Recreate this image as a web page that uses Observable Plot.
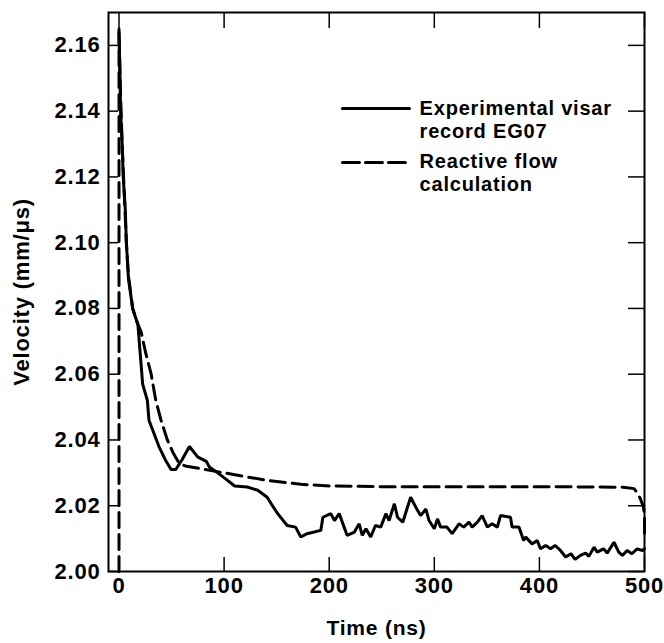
<!DOCTYPE html>
<html>
<head>
<meta charset="utf-8">
<script src="https://cdn.jsdelivr.net/npm/d3@7"></script>
<script src="https://cdn.jsdelivr.net/npm/@observablehq/plot@0.6"></script>
<style>
  html, body { margin: 0; padding: 0; background: #fff; }
  svg text { letter-spacing: 0.8px; }
</style>
</head>
<body>
<div id="chart"></div>
<script>
// Experimental visar record EG07 (time ns, velocity mm/µs)
const expTime = [0, 1, 1.5, 3, 4, 6, 7, 9, 13, 16, 18, 21, 22.5, 27, 28.5, 38, 44, 49.5, 54, 60, 67, 75, 80, 83, 86, 94, 102, 110, 122, 132, 141, 146, 151, 160, 168, 173, 179, 192, 194, 201.5, 205, 209.5, 217, 224, 228.5, 231.5, 235, 239.5, 244, 249, 254, 257, 262, 265, 270, 277.5, 284, 287, 292, 295, 300, 303, 306, 312, 317, 323.5, 328, 333, 336, 341, 345.5, 350.5, 355, 360, 363, 372.5, 374, 380.5, 385, 387, 393, 398, 401, 406, 410.6, 415, 420, 425, 430, 434, 439, 444, 447, 452, 455, 461, 464.5, 471, 475.5, 479, 483.5, 488, 493, 498, 500];
const expVel  = [2.164, 2.150, 2.140, 2.130, 2.120, 2.110, 2.100, 2.089, 2.080, 2.077, 2.075, 2.063, 2.057, 2.052, 2.046, 2.038, 2.034, 2.031, 2.031, 2.034, 2.038, 2.0348, 2.034, 2.0335, 2.0318, 2.030, 2.028, 2.026, 2.0257, 2.0247, 2.0226, 2.020, 2.0176, 2.014, 2.0135, 2.0105, 2.0115, 2.0125, 2.0165, 2.0176, 2.0155, 2.0176, 2.011, 2.012, 2.0145, 2.011, 2.013, 2.0105, 2.014, 2.0135, 2.0176, 2.0155, 2.0206, 2.0165, 2.015, 2.0226, 2.0186, 2.017, 2.019, 2.0155, 2.013, 2.016, 2.0135, 2.0135, 2.0115, 2.0145, 2.0135, 2.015, 2.0135, 2.015, 2.017, 2.0135, 2.0145, 2.0135, 2.017, 2.0165, 2.0135, 2.0135, 2.0094, 2.0105, 2.0084, 2.0094, 2.0069, 2.0079, 2.0069, 2.0079, 2.0064, 2.0044, 2.0054, 2.0037, 2.0049, 2.0056, 2.0046, 2.0074, 2.0059, 2.0069, 2.0056, 2.0089, 2.0059, 2.0049, 2.0064, 2.0054, 2.0069, 2.0064, 2.0069];

// Reactive flow calculation
const calcTime = [0, 0, 1, 3, 5, 7, 9, 13, 17, 19, 21, 25.5, 30.5, 35, 40, 46, 52, 57, 63, 77, 109, 141, 173, 201, 250, 300, 350, 400, 450, 480, 490, 493, 496, 499, 500, 500];
const calcVel  = [2.000, 2.165, 2.150, 2.130, 2.115, 2.100, 2.090, 2.080, 2.076, 2.0744, 2.0729, 2.0663, 2.0602, 2.052, 2.046, 2.040, 2.0358, 2.033, 2.0321, 2.0313, 2.0295, 2.0277, 2.0265, 2.026, 2.0258, 2.0258, 2.0258, 2.0258, 2.0257, 2.0256, 2.0252, 2.024, 2.0222, 2.0196, 2.017, 2.010];

const xTicks = [0, 100, 200, 300, 400, 500];
const yTicks = [2.00, 2.02, 2.04, 2.06, 2.08, 2.10, 2.12, 2.14, 2.16];

const xLabel = "Time (ns)";
const yLabel = "Velocity (mm/\u03bcs)";
const legendLabels = [["Experimental visar", "record EG07"], ["Reactive flow", "calculation"]];

const expData = expTime.map((t, i) => ({t, v: expVel[i]}));
const calcData = calcTime.map((t, i) => ({t, v: calcVel[i]}));

const W = 664, H = 643;
const mL = 108, mR = 20, mT = 12, mB = 72;
const fw = W - mL - mR, fh = H - mT - mB;
const font = "'Liberation Sans', Arial, Helvetica, sans-serif";

// legend placement in data space
const lgX1 = 212.6, lgX2 = 276.4, lgTextX = 286;
const lgY = [2.1408, 2.1244];
const lgLine = 0.0069;

const chart = Plot.plot({
  width: W,
  height: H,
  marginLeft: mL, marginRight: mR, marginTop: mT, marginBottom: mB,
  style: {fontFamily: font, fontWeight: "bold", fontSize: "21px", color: "#000", background: "#fff"},
  x: {domain: [-10, 500], axis: null},
  y: {domain: [2.00, 2.17], axis: null},
  marks: [
    // inward ticks
    Plot.tickX(xTicks, {x: d => d, insetTop: fh - 14, stroke: "#000", strokeWidth: 1.5}),
    Plot.tickX(xTicks, {x: d => d, insetBottom: fh - 16, stroke: "#000", strokeWidth: 1.5}),
    Plot.tickY(yTicks, {y: d => d, insetRight: fw - 10, stroke: "#000", strokeWidth: 1.5}),
    Plot.tickY(yTicks, {y: d => d, insetLeft: fw - 16, stroke: "#000", strokeWidth: 1.5}),
    // tick labels
    Plot.text(xTicks, {x: d => d, frameAnchor: "bottom", lineAnchor: "top", dy: 6, text: d => String(d), fontSize: 22, fontWeight: "bold", fill: "#000"}),
    Plot.text(yTicks, {y: d => d, frameAnchor: "left", textAnchor: "end", dx: -8, text: d => d3.format(".2f")(d), fontSize: 22, fontWeight: "bold", fill: "#000"}),
    // axis titles
    Plot.text([xLabel], {frameAnchor: "bottom", textAnchor: "middle", lineAnchor: "middle", dy: 57, fontSize: 21, fontWeight: "bold", fill: "#000"}),
    Plot.text([yLabel], {frameAnchor: "left", textAnchor: "middle", lineAnchor: "middle", dx: -87, rotate: -90, fontSize: 22, fontWeight: "bold", fill: "#000"}),
    // data
    Plot.line(calcData, {x: "t", y: "v", stroke: "#000", strokeWidth: 3, strokeDasharray: "15,7", curve: "linear"}),
    Plot.line(expData, {x: "t", y: "v", stroke: "#000", strokeWidth: 3, strokeLinejoin: "miter", curve: "linear"}),
    // legend
    Plot.line([{t: lgX1, v: lgY[0]}, {t: lgX2, v: lgY[0]}], {x: "t", y: "v", stroke: "#000", strokeWidth: 3}),
    Plot.line([{t: lgX1, v: lgY[1]}, {t: lgX2, v: lgY[1]}], {x: "t", y: "v", stroke: "#000", strokeWidth: 3, strokeDasharray: "17,6"}),
    Plot.text(legendLabels.flatMap((pair, i) => pair.map((s, j) => ({s, v: lgY[i] - j * lgLine - (i === 1 ? -0.0003 : 0)}))),
      {x: () => lgTextX, y: "v", text: "s", textAnchor: "start", fontSize: 20, fontWeight: "bold", fill: "#000"}),
    Plot.frame({stroke: "#000", strokeWidth: 2})
  ]
});
document.getElementById("chart").appendChild(chart);
</script>
</body>
</html>
